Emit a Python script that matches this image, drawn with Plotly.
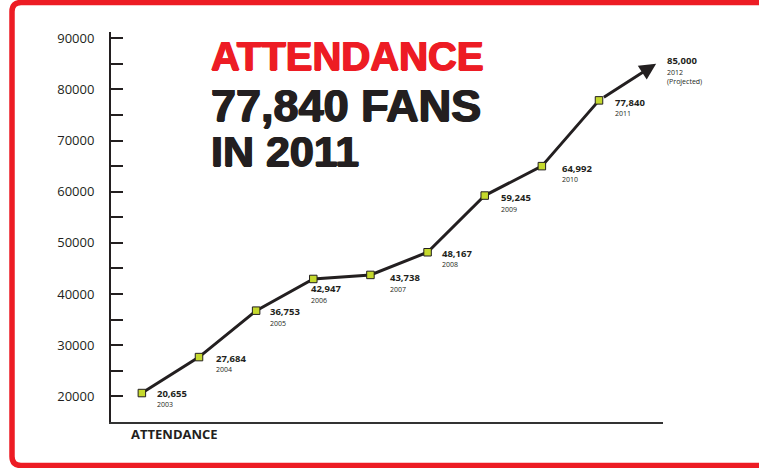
import plotly.graph_objects as go

# ---- data ----
years = [2003, 2004, 2005, 2006, 2007, 2008, 2009, 2010, 2011, 2012]
attendance = [20655, 27684, 36753, 42947, 43738, 48167, 59245, 64992, 77840, 85000]
year_labels = ["2003", "2004", "2005", "2006", "2007", "2008", "2009", "2010", "2011", "2012<br>(Projected)"]
y_tick_values = [20000, 30000, 40000, 50000, 60000, 70000, 80000, 90000]
y_tick_labels = ["20000", "30000", "40000", "50000", "60000", "70000", "80000", "90000"]
title_lines = ["ATTENDANCE", "77,840 FANS", "IN 2011"]
axis_label = "ATTENDANCE"

# ---- style ----
W, H = 759, 468
ML, MR, MT, MB = 111, 96, 32, 46
INK = "#231f20"
RED = "#ed1c24"
GREEN = "#c5d92d"
LABEL_FONT = "Open Sans, Liberation Sans, sans-serif"
HEAD_FONT = "Liberation Sans, Arial, sans-serif"

# label offsets in px (dx right, dy down) relative to each point
label_dx = [13, 15, 12, -4, 18, 12, 14, 18, 14, 9]
label_dy = [0, 1, 1, 10, 3, 1, 2, 2, 2, -3]

pw = W - ML - MR
ph = H - MT - MB


def px_x(px):
    return (px - ML) / pw


def px_y(py):
    return (H - MB - py) / ph


fig = go.Figure()

# main line (actual years)
fig.add_trace(go.Scatter(
    x=years[:-1], y=attendance[:-1],
    mode="lines+markers",
    line=dict(color=INK, width=3),
    marker=dict(symbol="square", size=7.5, color=GREEN, line=dict(color=INK, width=1)),
    hoverinfo="skip", showlegend=False,
))

annotations = []
# projected arrow
annotations.append(dict(
    x=years[-1], y=attendance[-1], ax=years[-2], ay=attendance[-2],
    xref="x", yref="y", axref="x", ayref="y",
    showarrow=True, arrowhead=2, arrowsize=1.1, arrowwidth=3, arrowcolor=INK,
    text="", standoff=0, startstandoff=4,
))

for i, (yr, v) in enumerate(zip(years, attendance)):
    annotations.append(dict(
        x=yr, y=v, xref="x", yref="y", showarrow=False,
        text=f"<b>{v:,}</b>", xanchor="left", yanchor="middle",
        xshift=label_dx[i], yshift=-label_dy[i],
        font=dict(family=LABEL_FONT, size=9.5, color=INK),
    ))
    annotations.append(dict(
        x=yr, y=v, xref="x", yref="y", showarrow=False,
        text=year_labels[i], xanchor="left", yanchor="top",
        xshift=label_dx[i], yshift=-label_dy[i] - 5,
        align="left",
        font=dict(family=LABEL_FONT, size=7, color=INK),
    ))

# headline (text, colour, size, cap-centre y in px)
head_specs = [(title_lines[0], RED, 40, 60.8), (title_lines[1], INK, 45, 111.5), (title_lines[2], INK, 43, 157)]
for txt, col, sz, cy in head_specs:
    annotations.append(dict(
        x=px_x(209), y=px_y(cy - 0.13 * sz), xref="paper", yref="paper", showarrow=False,
        text=f"<b>{txt}</b>", xanchor="left", yanchor="middle",
        font=dict(family=HEAD_FONT, size=sz, color=col,
                  shadow=f"0.8px 0 0 {col}, -0.8px 0 0 {col}, 0 0.6px 0 {col}"),
    ))

# axis caption
annotations.append(dict(
    x=px_x(129), y=px_y(434.5), xref="paper", yref="paper", showarrow=False,
    text=f"<b>{axis_label}</b>", xanchor="left", yanchor="middle",
    font=dict(family=LABEL_FONT, size=13, color=INK),
))

# red rounded frame (decoration)
x0, x1, y0, y1, r = 12, 790, 2.5, 465.5, 9
path = (
    f"M {px_x(x0 + r)},{px_y(y0)} L {px_x(x1)},{px_y(y0)} L {px_x(x1)},{px_y(y1)} "
    f"L {px_x(x0 + r)},{px_y(y1)} Q {px_x(x0)},{px_y(y1)} {px_x(x0)},{px_y(y1 - r)} "
    f"L {px_x(x0)},{px_y(y0 + r)} Q {px_x(x0)},{px_y(y0)} {px_x(x0 + r)},{px_y(y0)} Z"
)
fig.add_shape(type="path", path=path, xref="paper", yref="paper",
              line=dict(color=RED, width=5.5), fillcolor="rgba(0,0,0,0)", layer="above")

fig.update_layout(
    width=W, height=H,
    margin=dict(l=ML, r=MR, t=MT, b=MB, pad=0),
    paper_bgcolor="white", plot_bgcolor="white",
    annotations=annotations,
    showlegend=False,
    xaxis=dict(
        range=[2002.46, 2012.12], showgrid=False, zeroline=False,
        showticklabels=False, ticks="",
        showline=True, linecolor="#333333", linewidth=2,
    ),
    yaxis=dict(
        range=[15000, 91200], showgrid=False, zeroline=False,
        tickvals=y_tick_values, ticktext=y_tick_labels,
        ticks="inside", ticklen=12, tickwidth=2, tickcolor=INK,
        ticklabelstandoff=12,
        minor=dict(dtick=5000, tick0=0, ticks="inside", ticklen=12, tickwidth=2, tickcolor=INK),
        showline=True, linecolor=INK, linewidth=2,
        tickfont=dict(family=LABEL_FONT, size=13, color=INK),
    ),
)

fig.write_html(
    "out.html",
    config={"displayModeBar": False, "staticPlot": True},
    post_script="document.body.style.margin='0';document.body.style.overflow='hidden';",
)
